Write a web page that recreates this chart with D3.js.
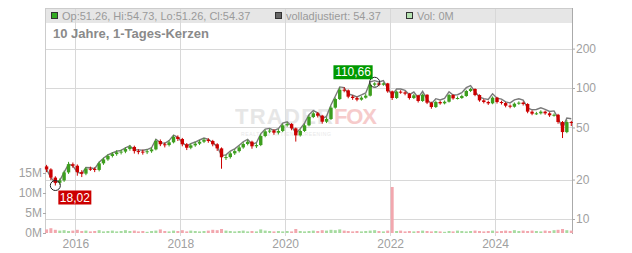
<!DOCTYPE html>
<html>
<head>
<meta charset="utf-8">
<script src="https://cdnjs.cloudflare.com/ajax/libs/d3/7.8.5/d3.min.js"></script>
<style>
body{margin:0;background:#fff;}
text{font-family:"Liberation Sans", Arial, sans-serif;}
</style>
</head>
<body>
<svg id="chart" width="632" height="253"></svg>
<script>
// monthly candles
var months = [
  '2015-06','2015-07','2015-08','2015-09','2015-10','2015-11','2015-12',
  '2016-01','2016-02','2016-03','2016-04','2016-05','2016-06','2016-07','2016-08','2016-09','2016-10','2016-11','2016-12',
  '2017-01','2017-02','2017-03','2017-04','2017-05','2017-06','2017-07','2017-08','2017-09','2017-10','2017-11','2017-12',
  '2018-01','2018-02','2018-03','2018-04','2018-05','2018-06','2018-07','2018-08','2018-09','2018-10','2018-11','2018-12',
  '2019-01','2019-02','2019-03','2019-04','2019-05','2019-06','2019-07','2019-08','2019-09','2019-10','2019-11','2019-12',
  '2020-01','2020-02','2020-03','2020-04','2020-05','2020-06','2020-07','2020-08','2020-09','2020-10','2020-11','2020-12',
  '2021-01','2021-02','2021-03','2021-04','2021-05','2021-06','2021-07','2021-08','2021-09','2021-10','2021-11','2021-12',
  '2022-01','2022-02','2022-03','2022-04','2022-05','2022-06','2022-07','2022-08','2022-09','2022-10','2022-11','2022-12',
  '2023-01','2023-02','2023-03','2023-04','2023-05','2023-06','2023-07','2023-08','2023-09','2023-10','2023-11','2023-12',
  '2024-01','2024-02','2024-03','2024-04','2024-05','2024-06','2024-07','2024-08','2024-09','2024-10','2024-11','2024-12',
  '2025-01','2025-02','2025-03','2025-04','2025-05','2025-06'
];

var firstOpen = 25.2;

var closes = [
  23.9, 20.7, 18.9, 19.7, 22.7, 26.2, 25.5,
  22.8, 22.2, 24.2, 24.1, 23.7, 26.6, 28.5, 30.3, 31.3, 32.3, 32.7, 34.2,
  35.5, 33.0, 32.7, 32.5, 32.9, 34.0, 39.4, 37.2, 36.7, 38.5, 42.3, 40.8,
  37.2, 35.0, 36.5, 37.6, 38.9, 40.3, 39.4, 37.2, 34.6, 29.6, 29.7, 31.7,
  33.0, 35.2, 37.4, 38.9, 35.9, 36.7, 43.0, 46.7, 47.3, 45.6, 47.0, 51.9,
  53.1, 49.2, 43.5, 47.0, 51.9, 60.1, 64.1, 61.5, 55.3, 58.0, 70.8, 82.4,
  97.1, 96.0, 85.9, 83.9, 81.5, 84.4, 87.4, 106.0, 108.5, 106.0, 108.5, 94.3,
  83.9, 93.8, 92.6, 90.5, 83.9, 87.9, 79.6, 88.9, 77.3, 71.6, 78.2, 76.4,
  78.6, 88.4, 83.4, 83.9, 86.9, 94.9, 98.3, 88.4, 80.5, 78.2, 76.4, 84.4,
  78.2, 76.8, 73.3, 72.0, 75.9, 77.3, 75.5, 66.0, 63.7, 64.1, 66.0, 64.1,
  61.9, 62.5, 55.0, 46.1, 55.0, 54.37
];

var highs = [
  25.9, 24.4, 21.2, 20.4, 23.4, 27.3, 27.0,
  26.1, 23.6, 24.9, 25.1, 24.8, 27.4, 29.4, 31.2, 32.4, 33.5, 33.9, 35.3,
  36.8, 36.3, 34.1, 33.8, 34.0, 35.2, 40.6, 40.5, 38.4, 39.8, 43.6, 43.5,
  41.6, 38.0, 37.6, 38.9, 40.1, 41.5, 41.4, 40.2, 37.9, 35.2, 31.0, 32.6,
  34.1, 36.3, 38.6, 40.2, 39.6, 37.9, 44.3, 48.1, 48.8, 48.5, 48.6, 53.4,
  54.9, 54.0, 49.9, 48.3, 53.4, 61.9, 66.0, 65.5, 62.4, 59.9, 72.6, 84.5,
  100.6, 101.5, 97.5, 88.2, 86.0, 86.6, 90.2, 108.6, 110.66, 110.2, 110.4, 109.5,
  95.6, 95.7, 96.2, 94.5, 91.8, 90.1, 88.8, 90.8, 89.6, 78.6, 80.1, 80.0,
  80.4, 90.3, 89.6, 86.2, 89.0, 96.9, 100.5, 99.4, 89.5, 82.3, 79.9, 86.3,
  85.6, 80.0, 78.1, 74.9, 77.6, 79.1, 78.8, 76.6, 67.5, 65.8, 67.6, 67.2,
  65.4, 64.0, 63.5, 56.0, 56.8, 56.2
];

var lows = [
  22.8, 19.8, 18.02, 18.3, 19.2, 22.1, 24.6,
  21.4, 20.9, 21.6, 23.3, 22.8, 23.1, 25.9, 27.8, 29.5, 30.4, 31.1, 31.8,
  33.2, 31.6, 31.2, 31.0, 31.3, 32.0, 33.4, 36.0, 35.2, 35.8, 37.8, 39.4,
  35.9, 33.6, 34.1, 35.6, 36.7, 38.0, 38.2, 35.9, 33.1, 24.2, 28.2, 28.9,
  30.8, 32.2, 34.4, 36.5, 34.4, 34.8, 36.0, 42.1, 45.2, 44.0, 44.2, 46.1,
  50.6, 47.6, 39.0, 42.6, 46.2, 51.0, 58.9, 59.6, 53.4, 54.0, 57.0, 69.5,
  81.0, 92.8, 83.5, 81.2, 79.2, 80.1, 82.9, 86.2, 103.0, 103.2, 104.0, 92.0,
  81.0, 82.6, 90.4, 88.0, 81.6, 82.4, 77.5, 78.4, 75.4, 69.5, 70.4, 74.6,
  75.0, 77.5, 81.5, 81.8, 82.6, 85.6, 93.2, 86.6, 78.6, 76.3, 74.3, 75.2,
  76.1, 74.8, 71.2, 70.0, 70.8, 74.4, 73.5, 64.2, 62.0, 62.3, 62.8, 62.5,
  60.2, 60.5, 53.4, 41.5, 45.2, 51.26
];

// "volladjustiert" grey line
var adjusted = [
  23.9, 20.7, 18.9, 19.7, 22.7, 26.2, 25.5,
  22.8, 22.2, 24.7, 24.6, 24.2, 27.1, 29.1, 30.9, 31.9, 32.9, 33.4, 34.9,
  36.2, 33.7, 33.7, 33.5, 33.9, 35.0, 40.6, 38.3, 37.8, 39.7, 43.6, 42.0,
  38.3, 36.1, 37.6, 38.7, 40.1, 41.5, 40.6, 38.3, 35.6, 30.5, 30.9, 33.0,
  34.3, 36.6, 38.9, 40.5, 37.3, 38.2, 44.7, 48.6, 49.2, 47.4, 48.9, 54.0,
  55.2, 51.2, 45.2, 48.9, 54.0, 62.5, 67.3, 64.6, 58.1, 60.9, 74.3, 86.5,
  102.0, 100.8, 90.2, 88.1, 85.6, 88.6, 91.8, 111.3, 113.9, 111.3, 113.9, 99.0,
  88.1, 98.5, 98.2, 95.9, 88.9, 93.2, 84.4, 94.2, 81.9, 75.9, 82.9, 81.0,
  83.3, 93.7, 88.4, 88.9, 92.1, 100.6, 104.2, 93.7, 85.3, 82.9, 81.7, 90.3,
  83.7, 82.2, 78.4, 77.0, 81.2, 82.7, 80.8, 70.6, 68.2, 68.6, 70.6, 68.6,
  66.2, 66.9, 58.9, 49.3, 58.9, 58.2
];

// volume in millions
var volumes = [
  0.9, 1.2, 0.8, 0.6, 0.7, 0.5, 0.6,
  0.8, 0.5, 0.6, 0.4, 0.5, 0.7, 0.4, 0.5, 0.6, 0.4, 0.5, 0.7,
  0.5, 0.6, 0.4, 0.5, 0.3, 0.5, 0.6, 0.9, 0.5, 0.4, 0.6, 0.5,
  0.7, 0.4, 0.6, 0.5, 0.4, 0.5, 0.6, 0.8, 0.7, 1.0, 0.6, 0.5,
  0.4, 0.5, 0.6, 0.4, 0.5, 0.4, 0.9, 0.6, 0.5, 0.4, 0.5, 0.4,
  0.5, 0.4, 1.0, 0.5, 0.4, 0.5, 0.6, 0.5, 0.7, 0.6, 0.8, 0.7,
  0.9, 0.6, 0.5, 0.4, 0.5, 0.4, 0.5, 0.6, 0.7, 0.5, 0.4, 0.6,
  11.5, 0.5, 0.6, 0.4, 0.5, 0.4, 0.5, 0.6, 0.5, 0.4, 0.5, 0.4,
  0.3, 0.5, 0.4, 0.6, 0.5, 0.4, 0.5, 0.6, 0.5, 0.4, 0.5, 0.6,
  0.4, 0.5, 0.6, 0.5, 0.7, 0.5, 0.6, 0.5, 0.6, 0.5, 0.4, 0.6,
  0.5, 0.7, 0.8, 1.0, 0.7, 0.6
];

var priceTicks = [10, 20, 50, 100, 200];
var volTicks = [0, 5, 10, 15];
var yearTicks = ['2016', '2018', '2020', '2022', '2024'];
var legendText = ['Op:51.26, Hi:54.73, Lo:51.26, Cl:54.37', 'volladjustiert: 54.37', 'Vol: 0M'];
var titleText = '10 Jahre, 1-Tages-Kerzen';

var LEFT = 46, RIGHT = 572, TOP = 8, BOTTOM = 233;
var GREEN = '#3d9e1e', RED = '#cc0000';

var svg = d3.select('#chart');
var parse = d3.timeParse('%Y-%m-%d');

var data = months.map(function(m, i){
  return {
    date: parse(m + '-15'),
    open: i == 0 ? firstOpen : closes[i-1],
    close: closes[i],
    high: highs[i],
    low: lows[i],
    adj: adjusted[i],
    vol: volumes[i]
  };
});

var x = d3.scaleTime()
  .domain([parse('2015-06-11'), parse('2025-06-20')])
  .range([LEFT, RIGHT]);

var y = d3.scaleLog()
  .domain([10, 200])
  .range([219, 48.6]);

var yv = d3.scaleLinear()
  .domain([0, 15])
  .range([BOTTOM, 173]);

// header band
svg.append('rect')
  .attr('x', LEFT).attr('y', TOP)
  .attr('width', RIGHT - LEFT).attr('height', 15)
  .attr('fill', '#e6e6e6');

// grid
svg.selectAll('.vgrid')
  .data(yearTicks)
  .enter()
  .append('line')
  .attr('class', 'vgrid')
  .attr('x1', d => Math.round(x(parse(d + '-01-01'))) + 0.5)
  .attr('x2', d => Math.round(x(parse(d + '-01-01'))) + 0.5)
  .attr('y1', TOP).attr('y2', BOTTOM + 3)
  .attr('stroke', '#d8d8d8');

svg.selectAll('.hgrid')
  .data(priceTicks)
  .enter()
  .append('line')
  .attr('class', 'hgrid')
  .attr('x1', LEFT).attr('x2', RIGHT)
  .attr('y1', d => Math.round(y(d)) + 0.5)
  .attr('y2', d => Math.round(y(d)) + 0.5)
  .attr('stroke', '#d8d8d8');

// frame
svg.append('line')
  .attr('x1', LEFT).attr('x2', RIGHT).attr('y1', TOP + 0.5).attr('y2', TOP + 0.5)
  .attr('stroke', '#cccccc');
svg.append('line')
  .attr('x1', LEFT - 0.5).attr('x2', LEFT - 0.5).attr('y1', TOP).attr('y2', BOTTOM + 1)
  .attr('stroke', '#cccccc');
svg.append('line')
  .attr('x1', RIGHT + 0.5).attr('x2', RIGHT + 0.5).attr('y1', TOP).attr('y2', BOTTOM + 1)
  .attr('stroke', '#aaaaaa');

// header legend
var legendX = [51, 275, 406];
var legendFill = ['#33aa22', '#666666', '#b5e2b0'];
legendText.forEach(function(t, i){
  svg.append('rect')
    .attr('x', legendX[i] + 0.5).attr('y', 12.5)
    .attr('width', 6).attr('height', 6)
    .attr('fill', legendFill[i])
    .attr('stroke', '#333');
  svg.append('text')
    .attr('x', legendX[i] + 11).attr('y', 20)
    .attr('font-size', 11)
    .attr('fill', '#9a9a9a')
    .text(t);
});

svg.append('text')
  .attr('x', 53).attr('y', 38)
  .attr('font-size', 13)
  .attr('font-weight', 'bold')
  .attr('fill', '#8a8a8a')
  .text(titleText);

// watermark
var wm = svg.append('g').attr('opacity', 0.9);
wm.append('text')
  .attr('x', 235).attr('y', 124)
  .attr('font-family', 'DejaVu Sans')
  .attr('font-weight', 'bold')
  .attr('font-size', 22)
  .attr('textLength', 98)
  .attr('fill', '#e4e4e4')
  .text('TRADER');
wm.append('text')
  .attr('x', 334).attr('y', 124)
  .attr('font-family', 'DejaVu Sans')
  .attr('font-weight', 'bold')
  .attr('font-size', 22)
  .attr('textLength', 43)
  .attr('fill', '#f6c6c6')
  .text('FOX');
wm.append('text')
  .attr('x', 241).attr('y', 136)
  .attr('font-size', 5)
  .attr('textLength', 90)
  .attr('fill', '#e6e6e6')
  .text('REALTIME AKTIEN SCREENING');

// volume
svg.selectAll('.vol')
  .data(data)
  .enter()
  .append('rect')
  .attr('class', 'vol')
  .attr('x', d => x(d.date) - 1.5)
  .attr('y', d => yv(d.vol))
  .attr('width', 3)
  .attr('height', d => BOTTOM - yv(d.vol))
  .attr('fill', d => d.close >= d.open ? '#a6dba0' : '#f2a7ae');

// adjusted line
svg.append('path')
  .datum(data)
  .attr('fill', 'none')
  .attr('stroke', '#7a7a7a')
  .attr('stroke-width', 1.4)
  .attr('d', d3.line().x(d => x(d.date)).y(d => y(d.adj)));

// candles
var candle = svg.selectAll('.candle')
  .data(data)
  .enter()
  .append('g')
  .attr('class', 'candle');

candle.append('line')
  .attr('x1', d => x(d.date)).attr('x2', d => x(d.date))
  .attr('y1', d => y(d.high)).attr('y2', d => y(d.low))
  .attr('stroke', d => d.close >= d.open ? GREEN : RED)
  .attr('stroke-width', 1);

candle.append('rect')
  .attr('x', d => x(d.date) - 1.7)
  .attr('y', d => y(Math.max(d.open, d.close)))
  .attr('width', 3.4)
  .attr('height', d => Math.max(1, Math.abs(y(d.open) - y(d.close))))
  .attr('fill', d => d.close >= d.open ? GREEN : RED);

// axes
var axisR = svg.append('g')
  .attr('transform', 'translate(' + RIGHT + ',0)')
  .call(d3.axisRight(y).tickValues(priceTicks).tickFormat(d3.format('d')).tickSize(3).tickPadding(1));
var axisL = svg.append('g')
  .attr('transform', 'translate(' + LEFT + ',0)')
  .call(d3.axisLeft(yv).tickValues(volTicks).tickFormat(d => d + 'M').tickSize(3).tickPadding(1));
var axisB = svg.append('g')
  .attr('transform', 'translate(0,' + BOTTOM + ')')
  .call(d3.axisBottom(x).tickValues(yearTicks.map(d => parse(d + '-01-01'))).tickFormat(d3.timeFormat('%Y')).tickSize(0).tickPadding(6));

[axisR, axisL, axisB].forEach(function(a){
  a.select('.domain').remove();
  a.selectAll('line').attr('stroke', '#aaaaaa');
  a.selectAll('text')
    .attr('font-size', 12)
    .attr('font-family', '"Liberation Sans", Arial, sans-serif')
    .attr('fill', '#a0a0a0');
});

// min / max markers
var hiIdx = d3.maxIndex(data, d => d.high);
var loIdx = d3.minIndex(data, d => d.low);
var hi = data[hiIdx], lo = data[loIdx];
var fmt = function(v){ return d3.format('.2f')(v).replace('.', ','); };

function marker(px, py, value, fill, bx, by){
  svg.append('circle')
    .attr('cx', px).attr('cy', py).attr('r', 5)
    .attr('fill', 'none').attr('stroke', '#222').attr('stroke-width', 1);
  var w = fmt(value).length * 6.2 + 2;
  svg.append('rect')
    .attr('x', bx == 'left' ? px - 2 - w : px + 3)
    .attr('y', by == 'up' ? py - 17 : py + 5)
    .attr('width', w).attr('height', 14)
    .attr('fill', fill);
  svg.append('text')
    .attr('x', (bx == 'left' ? px - 2 - w : px + 3) + w / 2)
    .attr('y', (by == 'up' ? py - 17 : py + 5) + 11)
    .attr('text-anchor', 'middle')
    .attr('font-size', 12)
    .attr('fill', '#fff')
    .text(fmt(value));
}

marker(x(hi.date), y(hi.high), hi.high, '#009900', 'left', 'up');
marker(x(lo.date), y(lo.low), lo.low, '#cc0000', 'right', 'down');
</script>
</body>
</html>
